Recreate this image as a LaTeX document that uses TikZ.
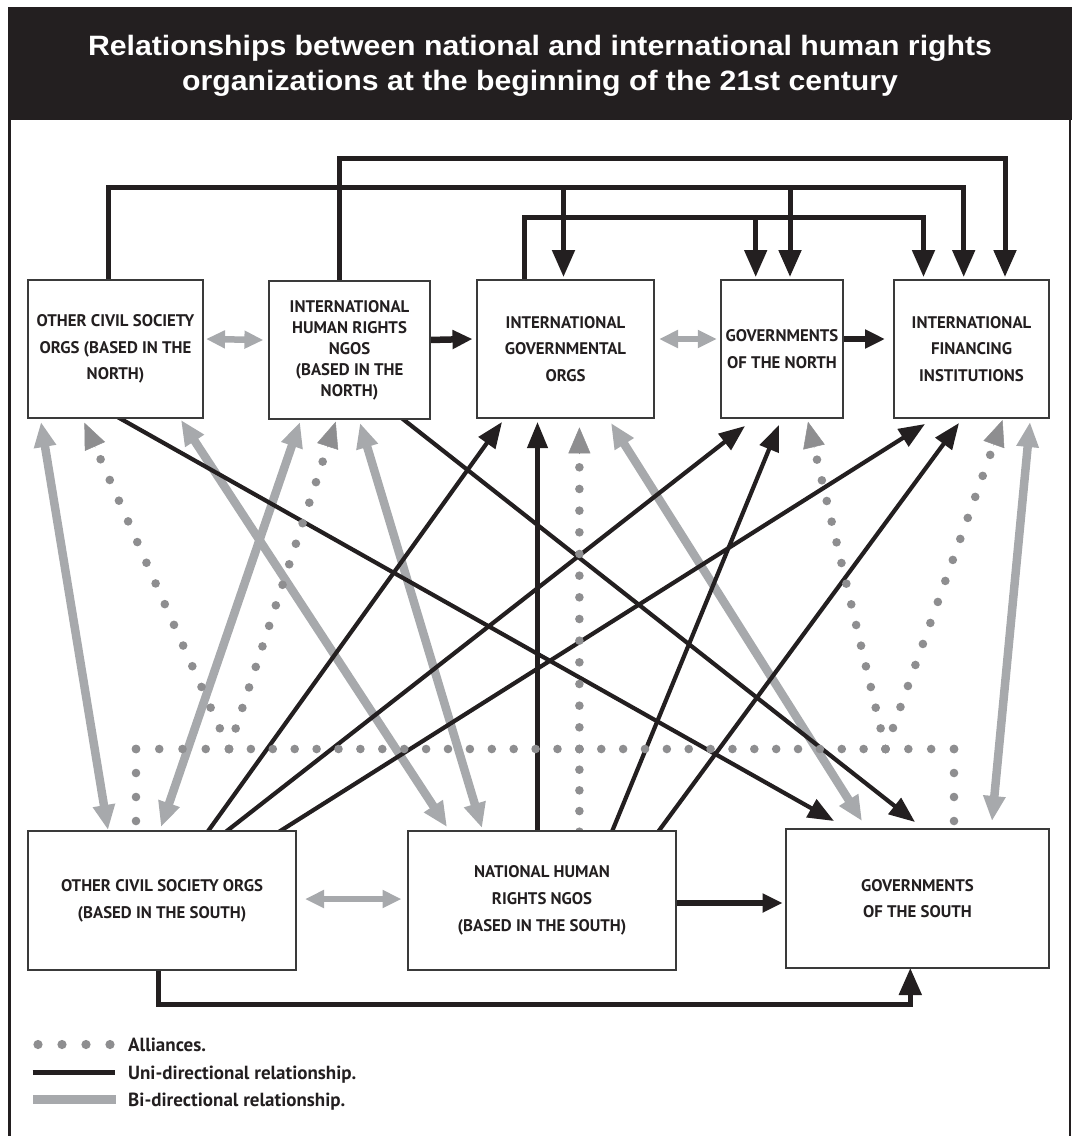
\documentclass[tikz,border=0pt]{standalone}
\usepackage{fontspec}
\usetikzlibrary{arrows.meta,calc}
\newfontfamily\titlefont{Liberation Sans}[FakeStretch=1.08]
\newfontfamily\boxfont{PT Sans}
\definecolor{ink}{HTML}{231F20}
\definecolor{bigray}{HTML}{A7A9AC}
\definecolor{dotgray}{HTML}{8E8E90}
\definecolor{edge}{HTML}{3A3A3A}
\pgfdeclarelayer{background}
\pgfsetlayers{background,main}
\newcommand{\dotrow}[3]{%
  \foreach \k in {0,...,#3}{\fill[dotgray] ($(#1)!{\k/#3}!(#2)$) circle[radius=4.3pt];}}
\newcommand{\dothead}[2]{%
  \draw[dotgray, line width=0.5pt, -{Triangle[length=26pt,width=22pt]}] ($(#2)!27pt!(#1)$) -- (#2);}
\tikzset{
  box/.style={draw=edge, line width=1.1pt, fill=white, inner sep=0pt, outer sep=0pt,
    align=center, text=ink, font=\boxfont\bfseries\fontsize{16.8}{26.7}\selectfont},
  uniT/.style={draw=ink, line width=5pt, line join=miter, -{Triangle[length=27pt,width=22pt]}},
  uniH/.style={draw=ink, line width=6.5pt, -{Triangle[length=20pt,width=18pt]}},
  biH/.style={draw=bigray, line width=6.5pt, {Triangle[length=19pt,width=17pt]}-{Triangle[length=19pt,width=17pt]}},
  uniD/.style={draw=ink, line width=4.2pt, -{Triangle[length=26pt,width=20pt]}},
  biD/.style={draw=bigray, line width=8.5pt, {Triangle[length=25pt,width=21pt]}-{Triangle[length=25pt,width=21pt]}},
  titletext/.style={text=white, inner sep=0pt, font=\titlefont\bfseries\fontsize{28}{36}\selectfont},
  legtext/.style={text=ink, inner sep=0pt, font=\boxfont\bfseries\fontsize{19}{22}\selectfont}
}
\begin{document}
\begin{tikzpicture}[x=1pt,y=-1pt]
\useasboundingbox (0,0) rectangle (1076,1136);
% frame and title bar
\fill[ink] (8,7) rectangle (1072,120);
\draw[ink, line width=2.5pt] (9.5,119) -- (9.5,1136);
\draw[ink, line width=2.5pt] (1070,119) -- (1070,1136);
\node[titletext, anchor=base] (title1) at (540,55) {Relationships between national and international human rights};
\node[titletext, anchor=base] (title2) at (540,90.7) {organizations at the beginning of the 21st century};

% boxes
\node[box, minimum width=175pt, minimum height=138pt] (ocn) at (115.5,349) {OTHER CIVIL SOCIETY\\ORGS (BASED IN THE\\NORTH)};
\node[box, minimum width=161pt, minimum height=138pt, font=\boxfont\bfseries\fontsize{16.8}{21}\selectfont] (ihr) at (349.5,350) {INTERNATIONAL\\HUMAN RIGHTS\\NGOS\\(BASED IN THE\\NORTH)};
\node[box, minimum width=177pt, minimum height=138pt] (igo) at (565.5,349) {INTERNATIONAL\\GOVERNMENTAL\\ORGS};
\node[box, minimum width=122pt, minimum height=138pt] (gn) at (782,349) {GOVERNMENTS\\OF THE NORTH};
\node[box, minimum width=155pt, minimum height=138pt] (ifi) at (971.5,349) {INTERNATIONAL\\FINANCING\\INSTITUTIONS};
\node[box, minimum width=268pt, minimum height=139pt] (ocs) at (162,900.5) {OTHER CIVIL SOCIETY ORGS\\(BASED IN THE SOUTH)};
\node[box, minimum width=268pt, minimum height=139pt] (nhr) at (542,900.5) {NATIONAL HUMAN\\RIGHTS NGOS\\(BASED IN THE SOUTH)};
\node[box, minimum width=263pt, minimum height=139pt] (gs) at (917.5,898.5) {GOVERNMENTS\\OF THE SOUTH};

\begin{pgfonlayer}{background}
% top bus connectors
\draw[uniT] ($(ihr.north)+(-10.3,3)$) -- ++(0,-125.5) -| ($(ifi.north)+(33.5,-3)$);
\draw[uniT] ($(ocn.north)+(-6.7,3)$) -- ++(0,-95.5) -| ($(ifi.north)+(-7.8,-3)$);
\draw[uniT] ($(igo.north)+(-2,-92.5)$) -- ($(igo.north)+(-2,-3)$);
\draw[uniT] ($(gn.north)+(8,-92.5)$) -- ($(gn.north)+(8,-3)$);
\draw[uniT] ($(igo.north)+(-41.5,3)$) -- ++(0,-65.5) -| ($(ifi.north)+(-48,-3)$);
\draw[uniT] ($(gn.north)+(-26.3,-62.5)$) -- ($(gn.north)+(-26.3,-3)$);
% bottom elbow
\draw[uniT] ($(ocs.south)+(-3.6,-3)$) -- ++(0,37) -| ($(gs.south)+(-7.2,0)$);
% horizontal arrows
\draw[biH] ($(ocn.east)+(3,-10)$) -- ($(ihr.west)+(-5.6,-10)$);
\draw[uniH] ($(ihr.east)+(-1,-10)$) -- ($(igo.west)+(-4.5,-10)$);
\draw[biH] ($(igo.east)+(5,-10)$) -- ($(gn.west)+(-4.2,-10)$);
\draw[uniH] ($(gn.east)+(-1,-10)$) -- ($(ifi.west)+(-9,-10)$);
\draw[biH] ($(ocs.east)+(9,-1.5)$) -- ($(nhr.west)+(-6.5,-1.5)$);
\draw[uniH] ($(nhr.east)+(-1,2.5)$) -- ($(gs.west)+(-3.4,4.5)$);
% gray bi-directional diagonals
\draw[biD] ($(ocn.south west)+(13,4)$) -- ($(ocs.north west)+(80,-1)$);
\draw[biD] ($(ocn.south west)+(153,2)$) -- ($(nhr.north west)+(39,-4)$);
\draw[biD] ($(ihr.south west)+(31,3)$) -- ($(ocs.north west)+(133,-4)$);
\draw[biD] ($(ihr.south west)+(91,4)$) -- ($(nhr.north west)+(74,-3)$);
\draw[biD] ($(igo.south west)+(134,5)$) -- ($(gs.north west)+(76,-8)$);
\draw[biD] ($(ifi.south west)+(136,4)$) -- ($(gs.north west)+(206,-8)$);
% black uni-directional diagonals
\draw[uniD] ($(ocn.south west)+(86,-3)$) -- ($(gs.north west)+(48,-8)$);
\draw[uniD] ($(ihr.south west)+(130,-3)$) -- ($(gs.north west)+(129,-7)$);
\draw[uniD] ($(ocs.north west)+(178,3)$) -- ($(igo.south west)+(25,4)$);
\draw[uniD] ($(ocs.north west)+(195,3)$) -- ($(gn.south west)+(24,8)$);
\draw[uniD] ($(ocs.north west)+(247.5,3)$) -- ($(ifi.south west)+(31,6)$);
\draw[uniD] ($(nhr.north west)+(129.5,3)$) -- ($(igo.south west)+(60.5,4)$);
\draw[uniD] ($(nhr.north west)+(203,3)$) -- ($(gn.south west)+(58,7)$);
\draw[uniD] ($(nhr.north west)+(248.5,3)$) -- ($(ifi.south west)+(65,5)$);
% alliances (dotted)
\coordinate (T1) at ($(ocn.south west)+(56.4,4.7)$);
\coordinate (T2) at ($(ihr.south west)+(66.7,2.7)$);
\coordinate (TM) at ($(igo.south west)+(102.4,9.3)$);
\coordinate (T3) at ($(gn.south west)+(87,3.7)$);
\coordinate (T4) at ($(ifi.south west)+(108.6,2)$);
\coordinate (hL) at (136,749);
\coordinate (jL) at (229,749);
\coordinate (jM) at (579.4,749);
\coordinate (jR) at (885.5,749);
\coordinate (hR) at (954,749);
\coordinate (legL) at ($(ocs.north west)+(108,-10)$);
\coordinate (legR) at ($(gs.north west)+(168,-8)$);
\coordinate (legM) at ($(nhr.north west)+(171.4,0.7)$);
\coordinate (E1) at ($(T1)!40pt!(jL)$);
\coordinate (E2) at ($(T2)!42pt!(jL)$);
\coordinate (EM) at ($(TM)!40pt!(jM)$);
\coordinate (E3) at ($(T3)!39pt!(jR)$);
\coordinate (E4) at ($(T4)!37pt!(jR)$);
\dotrow{jL}{E1}{14}
\dotrow{jL}{E2}{14}
\dotrow{jM}{EM}{13}
\dotrow{jM}{legM}{4}
\dotrow{jR}{E3}{14}
\dotrow{jR}{E4}{14}
\dotrow{hL}{legL}{3}
\dotrow{hR}{legR}{3}
\dotrow{hL}{jL}{4}
\dotrow{jL}{jM}{16}
\dotrow{jM}{jR}{14}
\dotrow{jR}{hR}{3}
\dothead{jL}{T1}
\dothead{jL}{T2}
\dothead{jM}{TM}
\dothead{jR}{T3}
\dothead{jR}{T4}
\end{pgfonlayer}

% legend
\foreach \x in {38,62,86,110} \fill[dotgray] (\x,1044.5) circle[radius=4.6pt];
\draw[ink, line width=5pt] (32.7,1072.5) -- (114.7,1072.5);
\draw[bigray, line width=9pt] (33,1099) -- (116,1099);
\node[legtext, anchor=base west] (legA) at (128,1051) {Alliances.};
\node[legtext, anchor=base west] (legU) at (128,1079) {Uni-directional relationship.};
\node[legtext, anchor=base west] (legB) at (128,1106) {Bi-directional relationship.};
\end{tikzpicture}
\end{document}
